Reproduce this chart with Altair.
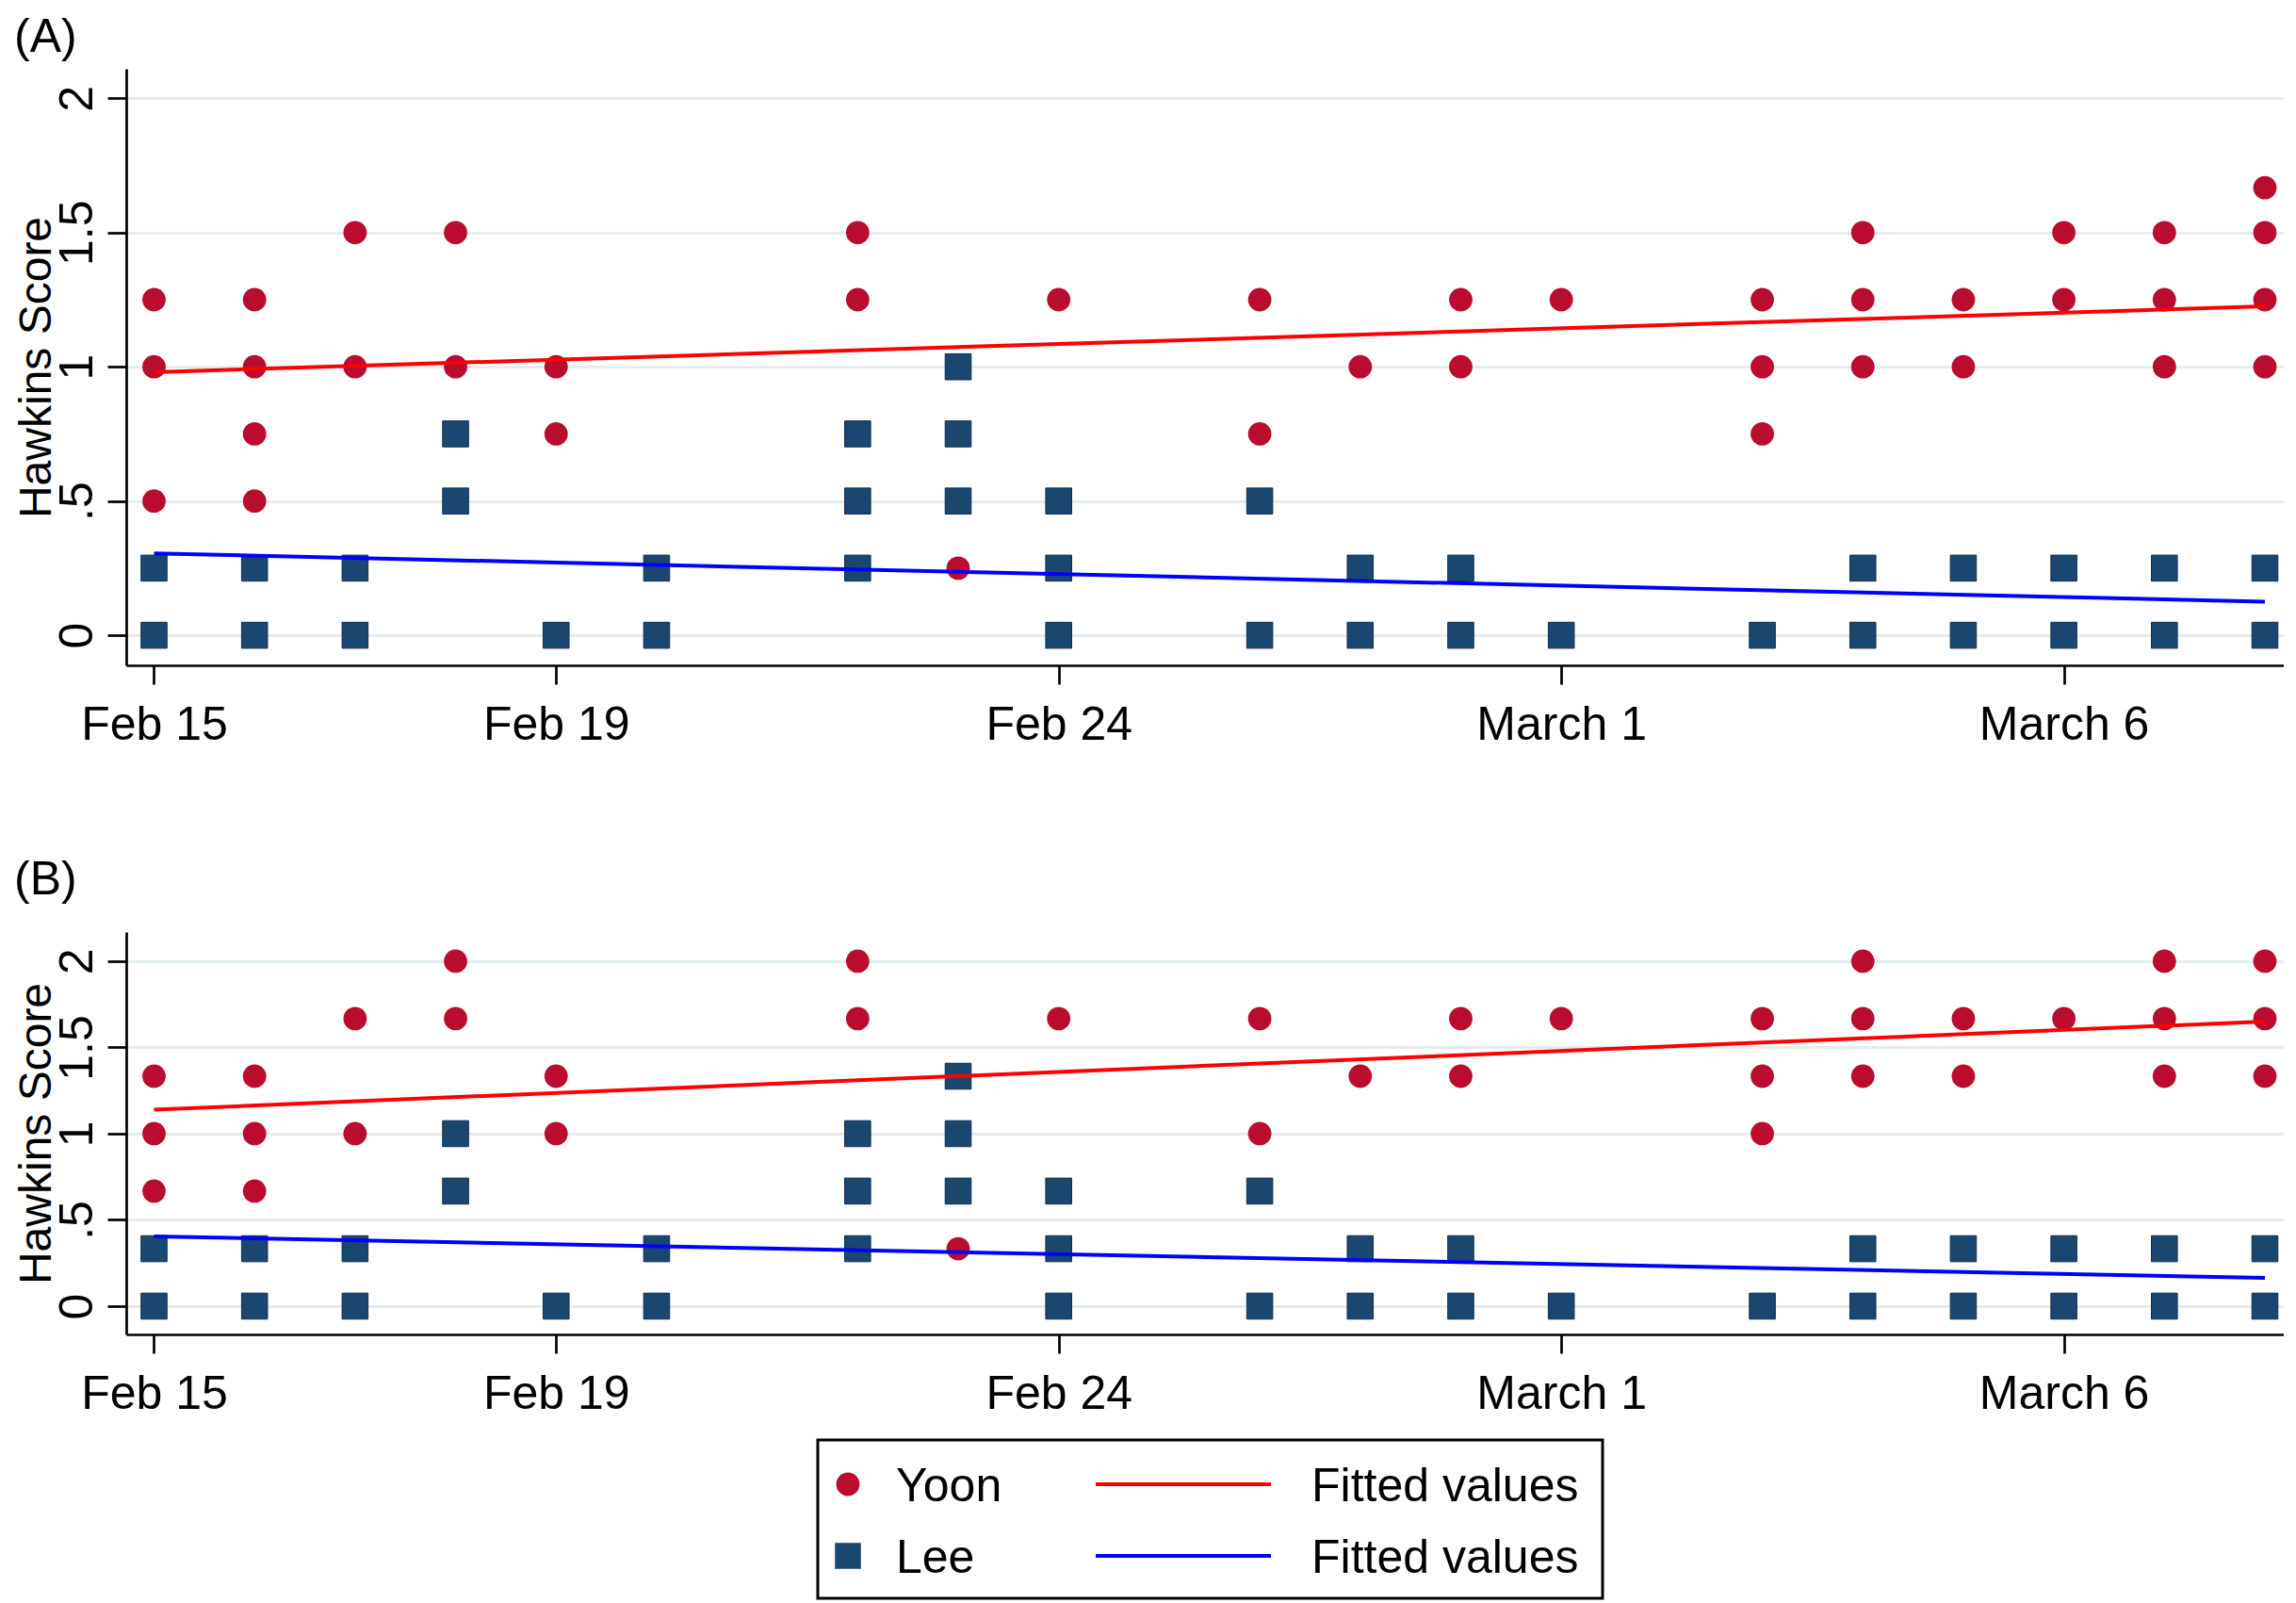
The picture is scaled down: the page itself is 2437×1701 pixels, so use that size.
import altair as alt
import pandas as pd

FONT = "Liberation Sans"
RED_DOT = "#BA0C2F"
NAVY = "#1A476F"
FIT_RED = "#FF0000"
FIT_BLUE = "#0000FF"
GRID = "#E3ECEE"

# ---------------- data ----------------
# Panel A: Yoon scores by day
a_yoon = {
    "2022-02-15": [1.25, 1.0, 0.5],
    "2022-02-16": [1.25, 1.0, 0.75, 0.5],
    "2022-02-17": [1.5, 1.0],
    "2022-02-18": [1.5, 1.0],
    "2022-02-19": [1.0, 0.75],
    "2022-02-22": [1.5, 1.25],
    "2022-02-23": [0.25],
    "2022-02-24": [1.25],
    "2022-02-26": [1.25, 0.75],
    "2022-02-27": [1.0],
    "2022-02-28": [1.25, 1.0],
    "2022-03-01": [1.25],
    "2022-03-03": [1.25, 1.0, 0.75],
    "2022-03-04": [1.5, 1.25, 1.0],
    "2022-03-05": [1.25, 1.0],
    "2022-03-06": [1.5, 1.25],
    "2022-03-07": [1.5, 1.25, 1.0],
    "2022-03-08": [1.667, 1.5, 1.25, 1.0],
}
# Panel A: Lee scores by day
a_lee = {
    "2022-02-15": [0.25, 0.0],
    "2022-02-16": [0.25, 0.0],
    "2022-02-17": [0.25, 0.0],
    "2022-02-18": [0.75, 0.5],
    "2022-02-19": [0.0],
    "2022-02-20": [0.25, 0.0],
    "2022-02-22": [0.75, 0.5, 0.25],
    "2022-02-23": [1.0, 0.75, 0.5],
    "2022-02-24": [0.5, 0.25, 0.0],
    "2022-02-26": [0.5, 0.0],
    "2022-02-27": [0.25, 0.0],
    "2022-02-28": [0.25, 0.0],
    "2022-03-01": [0.0],
    "2022-03-03": [0.0],
    "2022-03-04": [0.25, 0.0],
    "2022-03-05": [0.25, 0.0],
    "2022-03-06": [0.25, 0.0],
    "2022-03-07": [0.25, 0.0],
    "2022-03-08": [0.25, 0.0],
}
# Panel B: Yoon scores by day
b_yoon = {
    "2022-02-15": [1.333, 1.0, 0.667],
    "2022-02-16": [1.333, 1.0, 0.667],
    "2022-02-17": [1.667, 1.0],
    "2022-02-18": [2.0, 1.667],
    "2022-02-19": [1.333, 1.0],
    "2022-02-22": [2.0, 1.667],
    "2022-02-23": [0.333],
    "2022-02-24": [1.667],
    "2022-02-26": [1.667, 1.0],
    "2022-02-27": [1.333],
    "2022-02-28": [1.667, 1.333],
    "2022-03-01": [1.667],
    "2022-03-03": [1.667, 1.333, 1.0],
    "2022-03-04": [2.0, 1.667, 1.333],
    "2022-03-05": [1.667, 1.333],
    "2022-03-06": [1.667],
    "2022-03-07": [2.0, 1.667, 1.333],
    "2022-03-08": [2.0, 1.667, 1.333],
}
# Panel B: Lee scores by day
b_lee = {
    "2022-02-15": [0.333, 0.0],
    "2022-02-16": [0.333, 0.0],
    "2022-02-17": [0.333, 0.0],
    "2022-02-18": [1.0, 0.667],
    "2022-02-19": [0.0],
    "2022-02-20": [0.333, 0.0],
    "2022-02-22": [1.0, 0.667, 0.333],
    "2022-02-23": [1.333, 1.0, 0.667],
    "2022-02-24": [0.667, 0.333, 0.0],
    "2022-02-26": [0.667, 0.0],
    "2022-02-27": [0.333, 0.0],
    "2022-02-28": [0.333, 0.0],
    "2022-03-01": [0.0],
    "2022-03-03": [0.0],
    "2022-03-04": [0.333, 0.0],
    "2022-03-05": [0.333, 0.0],
    "2022-03-06": [0.333, 0.0],
    "2022-03-07": [0.333, 0.0],
    "2022-03-08": [0.333, 0.0],
}

# Fitted values (end points)
fit_dates = ["2022-02-15", "2022-03-08"]
a_fit_yoon = [0.980, 1.225]
a_fit_lee = [0.305, 0.125]
b_fit_yoon = [1.139, 1.650]
b_fit_lee = [0.404, 0.164]

# Axis ticks
x_tick_dates = ["2022-02-15", "2022-02-19", "2022-02-24", "2022-03-01", "2022-03-06"]
x_tick_labels = ["Feb 15", "Feb 19", "Feb 24", "March 1", "March 6"]
y_ticks = [0, 0.5, 1, 1.5, 2]
y_tick_labels = ["0", ".5", "1", "1.5", "2"]

legend_names = ["Yoon", "Lee"]
fit_label = "Fitted values"

# ---------------- helpers ----------------
def to_df(d):
    rows = [{"date": k, "score": v} for k, vals in d.items() for v in vals]
    return pd.DataFrame(rows)


def fit_df(vals):
    return pd.DataFrame({"date": fit_dates, "score": vals})


def ms(d):
    return int(pd.Timestamp(d, tz="UTC").value // 10**6)


x_label_expr = "".join(
    f"time(datum.value) == {ms(d)} ? '{lab}' : " for d, lab in zip(x_tick_dates, x_tick_labels)
) + "''"
y_label_expr = "".join(
    f"datum.value == {v} ? '{lab}' : " for v, lab in zip(y_ticks, y_tick_labels)
) + "''"

X_DOMAIN = [
    alt.DateTime(year=2022, month=2, date=14, hours=17, minutes=22, utc=True),
    alt.DateTime(year=2022, month=3, date=8, hours=4, minutes=30, utc=True),
]
X_VALUES = [
    alt.DateTime(year=int(d[:4]), month=int(d[5:7]), date=int(d[8:10]), utc=True)
    for d in x_tick_dates
]

PLOT_W = 2290


def panel(yoon, lee, fit_y, fit_l, ydom, height, title_text, title_offset, extra=()):
    xenc = alt.X(
        "date:T",
        scale=alt.Scale(type="utc", domain=X_DOMAIN, nice=False),
        axis=alt.Axis(
            values=X_VALUES,
            labelExpr=x_label_expr,
            grid=False,
            tickSize=20,
            tickWidth=2.7,
            domainWidth=2.7,
            labelPadding=18,
            labelFlush=False,
            labelOverlap=False,
            labelBound=False,
            labelLimit=1000,
            labelAlign="center",
            labelBaseline="top",
        ),
        title=None,
    )
    yenc = alt.Y(
        "score:Q",
        scale=alt.Scale(domain=ydom, nice=False, zero=False),
        axis=alt.Axis(
            values=y_ticks,
            labelExpr=y_label_expr,
            grid=True,
            gridColor=GRID,
            gridWidth=3,
            tickSize=20,
            tickWidth=2.7,
            domainWidth=2.7,
            labelAngle=270,
            labelAlign="center",
            labelBaseline="alphabetic",
            labelPadding=17,
            labelOverlap=False,
            labelFlush=False,
            labelBound=False,
            labelLimit=1000,
            titleAngle=270,
            titleAlign="center",
            titleBaseline="alphabetic",
            titleFontSize=48,
            titleX=-81,
            titleY=height / 2,
            titleLimit=2000,
        ),
        title="Hawkins Score",
    )
    yoon_pts = alt.Chart(to_df(yoon)).mark_point(
        shape="circle", filled=True, size=615, color=RED_DOT, opacity=1, strokeWidth=0
    ).encode(x=xenc, y=yenc)
    lee_pts = alt.Chart(to_df(lee)).mark_point(
        shape="square", filled=True, size=760, color=NAVY, opacity=1,
        stroke="#0E2E4C", strokeWidth=1
    ).encode(x=xenc, y=yenc)
    fy = alt.Chart(fit_df(fit_y)).mark_line(color=FIT_RED, strokeWidth=4).encode(x=xenc, y=yenc)
    fl = alt.Chart(fit_df(fit_l)).mark_line(color=FIT_BLUE, strokeWidth=4).encode(x=xenc, y=yenc)
    return alt.layer(yoon_pts, lee_pts, fy, fl, *extra).properties(
        width=PLOT_W,
        height=height,
        title=alt.Title(
            title_text,
            anchor="start",
            frame="bounds",
            fontSize=50,
            fontWeight="normal",
            font=FONT,
            color="black",
            baseline="top",
            offset=title_offset,
        ),
    )


# ---------------- legend (drawn below panel B) ----------------
LEG_ROWS = [586, 662]
one = alt.Data(values=[{"k": 1}])
legend_layers = [
    alt.Chart(one).mark_rect(fill="white", stroke="black", strokeWidth=3).encode(
        x=alt.value(734), x2=alt.value(1567), y=alt.value(539), y2=alt.value(707)
    )
]
sym_specs = [("circle", RED_DOT, 615), ("square", NAVY, 760)]
line_colors = [FIT_RED, FIT_BLUE]
for name, (shp, col, sz), lcol, ry in zip(legend_names, sym_specs, line_colors, LEG_ROWS):
    legend_layers.append(
        alt.Chart(alt.Data(values=[{"label": name}])).mark_point(
            shape=shp, filled=True, size=sz, color=col, opacity=1, strokeWidth=0
        ).encode(x=alt.value(766), y=alt.value(ry))
    )
    legend_layers.append(
        alt.Chart(alt.Data(values=[{"label": name}])).mark_text(
            font=FONT, fontSize=50, align="left", baseline="alphabetic", dy=18, color="black"
        ).encode(x=alt.value(817), y=alt.value(ry), text="label:N")
    )
    legend_layers.append(
        alt.Chart(alt.Data(values=[{"label": fit_label}])).mark_rule(
            color=lcol, strokeWidth=4
        ).encode(x=alt.value(1029), x2=alt.value(1215), y=alt.value(ry))
    )
    legend_layers.append(
        alt.Chart(alt.Data(values=[{"label": fit_label}])).mark_text(
            font=FONT, fontSize=50, align="left", baseline="alphabetic", dy=18, color="black"
        ).encode(x=alt.value(1258), y=alt.value(ry), text="label:N")
    )

panel_a = panel(a_yoon, a_lee, a_fit_yoon, a_fit_lee, [-0.112, 2.110], 633, "(A)", 8.5)
panel_b = panel(b_yoon, b_lee, b_fit_yoon, b_fit_lee, [-0.164, 2.169], 427, "(B)", 30.5, legend_layers)

chart = (
    alt.vconcat(panel_a, panel_b, spacing=114)
    .resolve_scale(x="independent", y="independent")
    .properties(padding={"left": 6, "top": 6, "right": 0, "bottom": 0}, background="white")
    .configure_view(strokeWidth=0)
    .configure_axis(
        domainColor="black",
        tickColor="black",
        labelColor="black",
        titleColor="black",
        labelFont=FONT,
        titleFont=FONT,
        labelFontSize=50,
        titleFontWeight="normal",
    )
)

chart.save("out.html", embed_options={"renderer": "svg", "actions": False})
